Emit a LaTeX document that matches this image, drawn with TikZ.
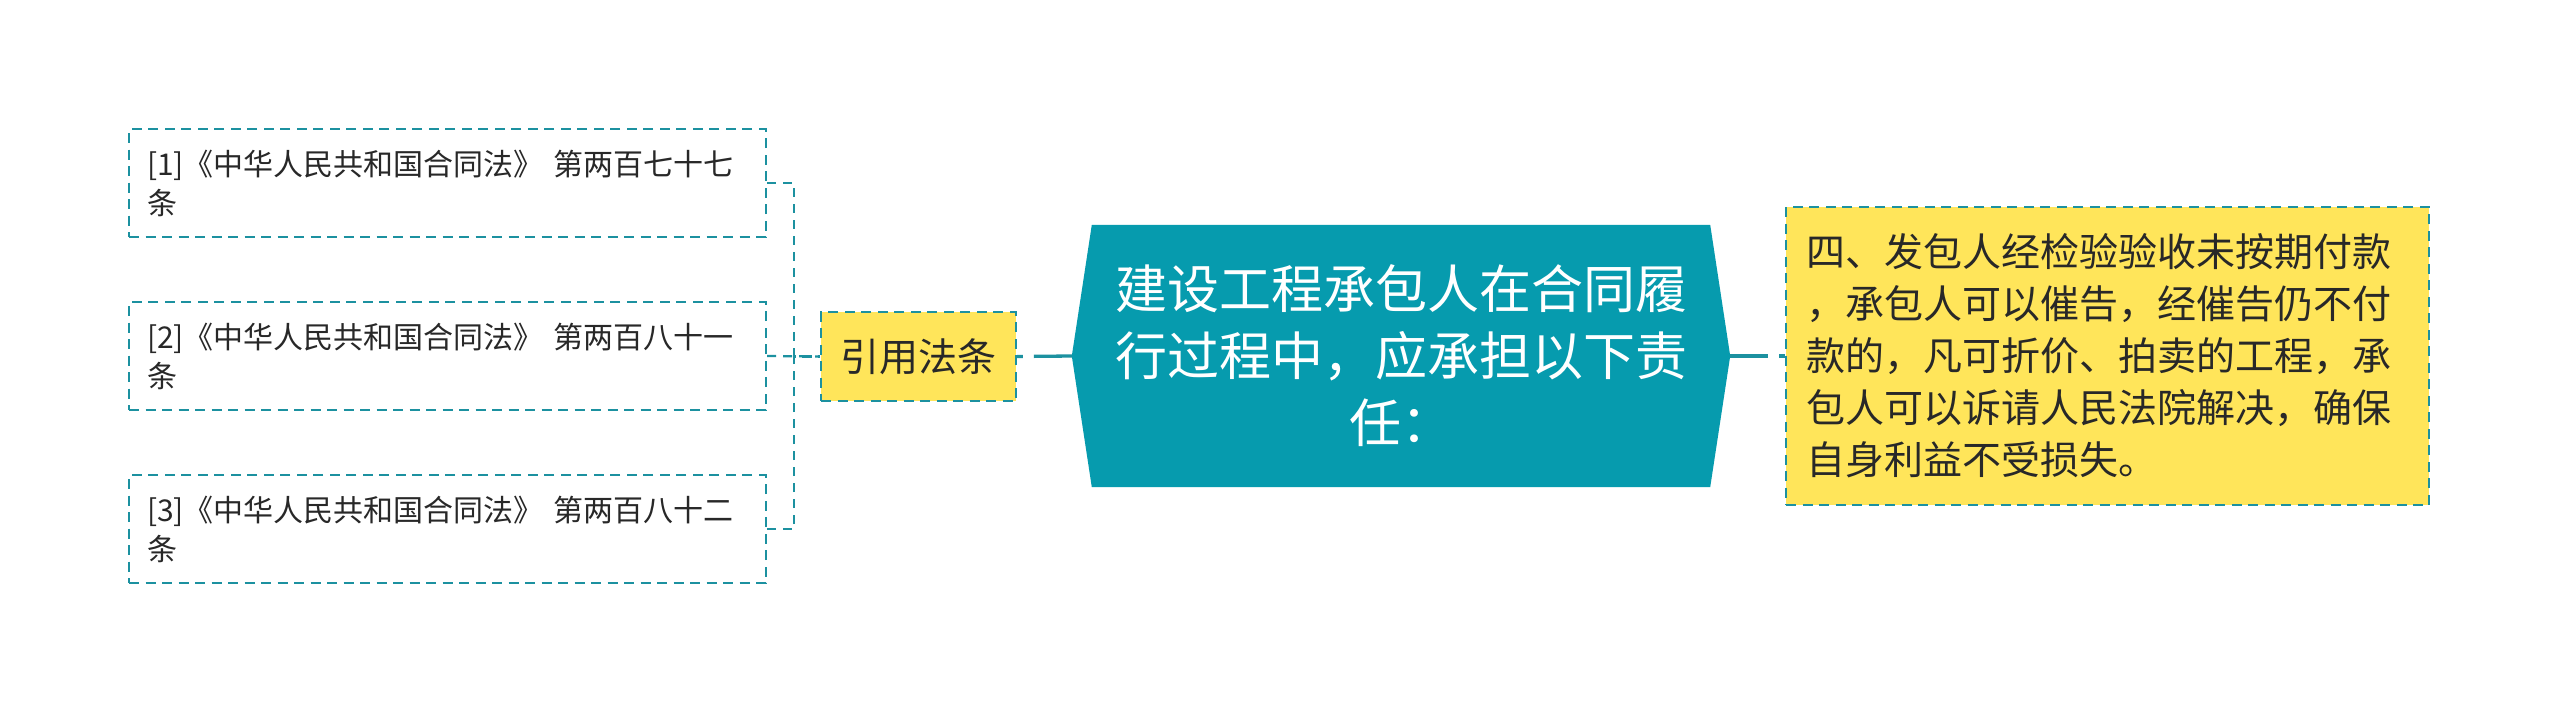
\documentclass[tikz,border=0pt]{standalone}
\usepackage{fontspec}
\setmainfont{Noto Sans CJK SC}
\usetikzlibrary{calc,backgrounds}
\definecolor{mainfill}{RGB}{6,155,174}
\definecolor{bord}{RGB}{28,145,160}
\definecolor{yel}{RGB}{255,229,90}
\definecolor{txt}{RGB}{40,40,40}
\begin{document}
\begin{tikzpicture}[x=1pt,y=-1pt,
  dashbox/.style={draw=bord, line width=2.2pt, dash pattern=on 10pt off 6.5pt},
  leaf/.style={dashbox, text width=601pt, align=left, inner xsep=18pt, inner ysep=0pt,
    minimum height=108pt, font=\fontsize{30}{39}\selectfont, text=txt},
  lawbox/.style={dashbox, fill=yel, minimum width=195pt, minimum height=89pt, inner sep=0pt,
    font=\fontsize{39}{47}\selectfont, text=txt},
  notebox/.style={dashbox, fill=yel, text width=603pt, align=left, inner xsep=20pt, inner ysep=0pt,
    minimum height=298pt, font=\fontsize{39}{52}\selectfont, text=txt},
  mainbox/.style={minimum width=618pt, minimum height=262pt, inner sep=0pt, text=white,
    align=center, text width=600pt, font=\fontsize{52}{67}\selectfont},
  conn/.style={draw=bord, line width=3.3pt, dash pattern=on 38pt off 11pt},
  brk/.style={draw=bord, line width=2.2pt, dash pattern=on 9pt off 7pt}
]
\useasboundingbox (0,0) rectangle (2560,713);

\node[leaf] (b1) at (447.5,183) {[1]《中华人民共和国合同法》 第两百七十七\\条};
\node[leaf] (b2) at (447.5,356) {[2]《中华人民共和国合同法》 第两百八十一\\条};
\node[leaf] (b3) at (447.5,529) {[3]《中华人民共和国合同法》 第两百八十二\\条};

\node[lawbox] (law) at (918.5,356.5) {引用法条};

\node[mainbox] (main) at (1401,356) {建设工程承包人在合同履\\行过程中，应承担以下责\\任：};
\coordinate (ml) at ($(main.west)+(-20,0)$);
\coordinate (mr) at ($(main.east)+(20,0)$);

\node[notebox] (note) at (2107.5,356) {四、发包人经检验验收未按期付款\\，承包人可以催告，经催告仍不付\\款的，凡可折价、拍卖的工程，承\\包人可以诉请人民法院解决，确保\\自身利益不受损失。};

\begin{scope}[on background layer]
  \fill[white] (0,0) rectangle (2560,713);
  \fill[mainfill] (main.north west) -- (main.north east) -- (mr) -- (main.south east)
    -- (main.south west) -- (ml) -- cycle;
\end{scope}

\draw[conn] (ml) -- (law.east);
\draw[conn] (mr) -- (note.west);

\draw[brk] (b1.east) -- ++(27,0) |- (law.west);
\draw[brk] (b2.east) -- (law.west);
\draw[brk] (b3.east) -- ++(27,0) |- (law.west);
\end{tikzpicture}
\end{document}
